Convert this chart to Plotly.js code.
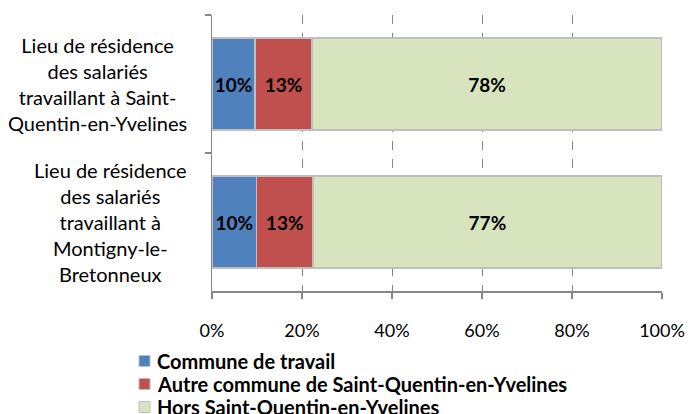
<!DOCTYPE html>
<html>
<head>
<meta charset="utf-8">
<script src="https://cdn.plot.ly/plotly-3.0.1.min.js"></script>
<style>html,body{margin:0;padding:0;background:#fff;overflow:hidden;}#chart{width:700px;height:414px;}</style>
</head>
<body>
<div id="chart"></div>
<script>
var categories = [
  "Lieu de résidence<br>des salariés<br>travaillant à Saint-<br>Quentin-en-Yvelines",
  "Lieu de résidence<br>des salariés<br>travaillant à<br>Montigny-le-<br>Bretonneux"
];
var seriesNames = ["Commune de travail", "Autre commune de Saint-Quentin-en-Yvelines", "Hors Saint-Quentin-en-Yvelines"];
var communeTravail = [0.096, 0.099];
var autreCommune = [0.126, 0.125];
var horsSQY = [0.778, 0.776];
var labelsCommune = ["10%", "10%"];
var labelsAutre = ["13%", "13%"];
var labelsHors = ["78%", "77%"];
var xTickVals = [0, 0.2, 0.4, 0.6, 0.8, 1.0];
var xTickText = ["0%", "20%", "40%", "60%", "80%", "100%"];

var colors = ["#4F81BD", "#C0504D", "#D7E4BD"];
var FONT = "Lato, 'Open Sans', sans-serif";
var values = [communeTravail, autreCommune, horsSQY];
var labels = [labelsCommune, labelsAutre, labelsHors];

// plot area geometry (pixels)
var L = 212, R = 38, T = 15, B = 123, W = 700, H = 414;
var PW = W - L - R, PH = H - T - B;
function px(xp) { return (xp - L) / PW; }
function py(yp) { return (H - B - yp) / PH; }

var data = values.map(function (v, i) {
  return {
    type: "bar",
    orientation: "h",
    name: seriesNames[i],
    y: categories,
    x: v,
    text: labels[i],
    textposition: "inside",
    insidetextanchor: "middle",
    constraintext: "none",
    textangle: 0,
    textfont: {family: FONT, size: 19, color: "#000", weight: "bold"},
    marker: {color: colors[i], line: {color: "#BFBFBF", width: 1.5}},
    showlegend: false,
    hoverinfo: "x+name"
  };
});

var annotations = categories.map(function (c) {
  return {
    xref: "paper", yref: "y", x: px(189), y: c,
    xanchor: "right", yanchor: "middle", align: "center",
    text: c, showarrow: false,
    font: {family: FONT, size: 20, color: "#000"}
  };
});

// legend drawn as text + colour squares
var shapes = [];
var legendRowY = [361, 384, 407];
seriesNames.forEach(function (n, i) {
  var cy = legendRowY[i];
  shapes.push({
    type: "rect", xref: "paper", yref: "paper",
    x0: px(139), x1: px(150), y0: py(cy + 5.5), y1: py(cy - 5.5),
    fillcolor: colors[i], line: {color: "#BFBFBF", width: 1}
  });
  annotations.push({
    xref: "paper", yref: "paper", x: px(155), y: py(cy),
    xanchor: "left", yanchor: "middle", align: "left",
    text: "<b>" + n + "</b>", showarrow: false,
    font: {family: FONT, size: 20, color: "#000"}
  });
});

var layout = {
  width: W, height: H,
  margin: {l: L, r: R, t: T, b: B, autoexpand: false},
  paper_bgcolor: "#fff", plot_bgcolor: "#fff",
  barmode: "stack",
  bargap: 0.333,
  showlegend: false,
  xaxis: {
    range: [0, 1], tickvals: xTickVals, ticktext: xTickText,
    showgrid: true, gridcolor: "#868686", griddash: "dash", gridwidth: 1,
    zeroline: false, showline: true, linecolor: "#868686", linewidth: 1.5,
    ticks: "outside", ticklen: 6, tickcolor: "#868686", tickwidth: 1.5,
    ticklabelstandoff: 17,
    tickfont: {family: FONT, size: 18, color: "#000"},
    fixedrange: true
  },
  yaxis: {
    type: "category", categoryorder: "array", categoryarray: categories,
    autorange: "reversed",
    showticklabels: false, showgrid: false, zeroline: false,
    showline: true, linecolor: "#868686", linewidth: 1.5,
    ticks: "outside", tickson: "boundaries", ticklen: 6, tickcolor: "#868686", tickwidth: 1.5,
    fixedrange: true
  },
  shapes: shapes,
  annotations: annotations
};

Plotly.newPlot("chart", data, layout, {displayModeBar: false, staticPlot: true});
</script>
</body>
</html>
